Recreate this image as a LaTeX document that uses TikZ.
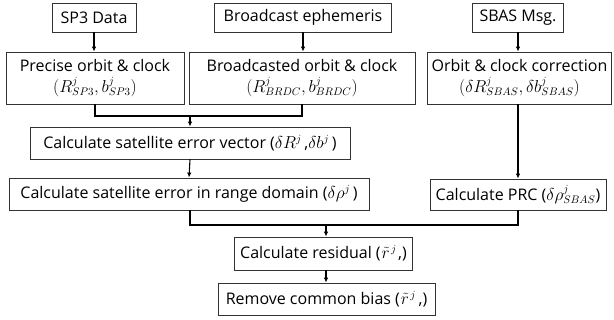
\documentclass[tikz,border=0pt]{standalone}
\usepackage{fontspec}
\setmainfont{Open Sans}
\usetikzlibrary{arrows.meta}
\begin{document}
\begin{tikzpicture}[x=1pt,y=-1pt,
  box/.style={draw=black!80, line width=0.8pt, inner sep=0pt, align=center,
    font=\fontsize{16}{21}\selectfont},
  conn/.style={line width=1.1pt},
  arr/.style={conn,-{Latex[length=5pt,width=4.5pt]}}]
\useasboundingbox (0,0) rectangle (614,320);
% row 1
\node[box, minimum width=84pt, minimum height=29pt] (sp3) at (94,17.5) {SP3 Data};
\node[box, minimum width=177pt, minimum height=29pt] (bce) at (303,17.5) {Broadcast ephemeris};
\node[box, minimum width=91pt, minimum height=29pt] (sbas) at (518,17.5) {SBAS Msg.};
% row 2
\node[box, minimum width=178pt, minimum height=52pt] (prec) at (95,78)
  {Precise orbit \& clock\\$(R^{j}_{SP3},b^{j}_{SP3})$};
\node[box, minimum width=226pt, minimum height=52pt] (brd) at (302,78)
  {Broadcasted orbit \& clock\\$(R^{j}_{BRDC},b^{j}_{BRDC})$};
\node[box, minimum width=184pt, minimum height=52pt] (orb) at (519.5,78)
  {Orbit \& clock correction\\$(\delta R^{j}_{SBAS},\delta b^{j}_{SBAS})$};
% row 3
\node[box, minimum width=320pt, minimum height=32pt] (vec) at (190,143)
  {Calculate satellite error vector ($\delta R^{j}$\,,$\delta b^{j}$\,)};
% row 4
\node[box, minimum width=360pt, minimum height=32pt] (rng) at (189,194)
  {Calculate satellite error in range domain ($\delta\rho^{j}$\,)};
\node[box, minimum width=176pt, minimum height=31pt] (prc) at (518,194.5)
  {Calculate PRC ($\delta\rho^{j}_{SBAS}$)};
% row 5, 6
\node[box, minimum width=178pt, minimum height=33pt] (res) at (323.5,253.5)
  {Calculate residual (\kern1pt${\tilde{r}}^{\mkern2mu j}$\kern1.5pt,)};
\node[box, minimum width=217pt, minimum height=32pt] (rem) at (326.5,299)
  {Remove common bias (\kern1pt${\tilde{r}}^{\mkern2mu j}$\,,)};
% connectors
\coordinate (j1) at (190,116);
\coordinate (j2) at (326,225);
\draw[arr] (sp3.south) -- (sp3.south |- prec.north);
\draw[arr] (bce.south) -- (bce.south |- brd.north);
\draw[arr] (sbas.south) -- (sbas.south |- orb.north);
\draw[conn] (prec.south) -- (prec.south |- j1) -- (brd.south |- j1) -- (brd.south);
\draw[arr] (j1) -- (vec.north);
\draw[arr] (vec.south) -- (rng.north);
\draw[arr] (sbas.south |- orb.south) -- (sbas.south |- prc.north);
\draw[conn] (rng.south -| j1) -- (j1 |- j2) -- (sbas.south |- j2) -- (sbas.south |- prc.south);
\draw[arr] (j2) -- (j2 |- res.north);
\draw[arr] (j2 |- res.south) -- (j2 |- rem.north);
\end{tikzpicture}
\end{document}
